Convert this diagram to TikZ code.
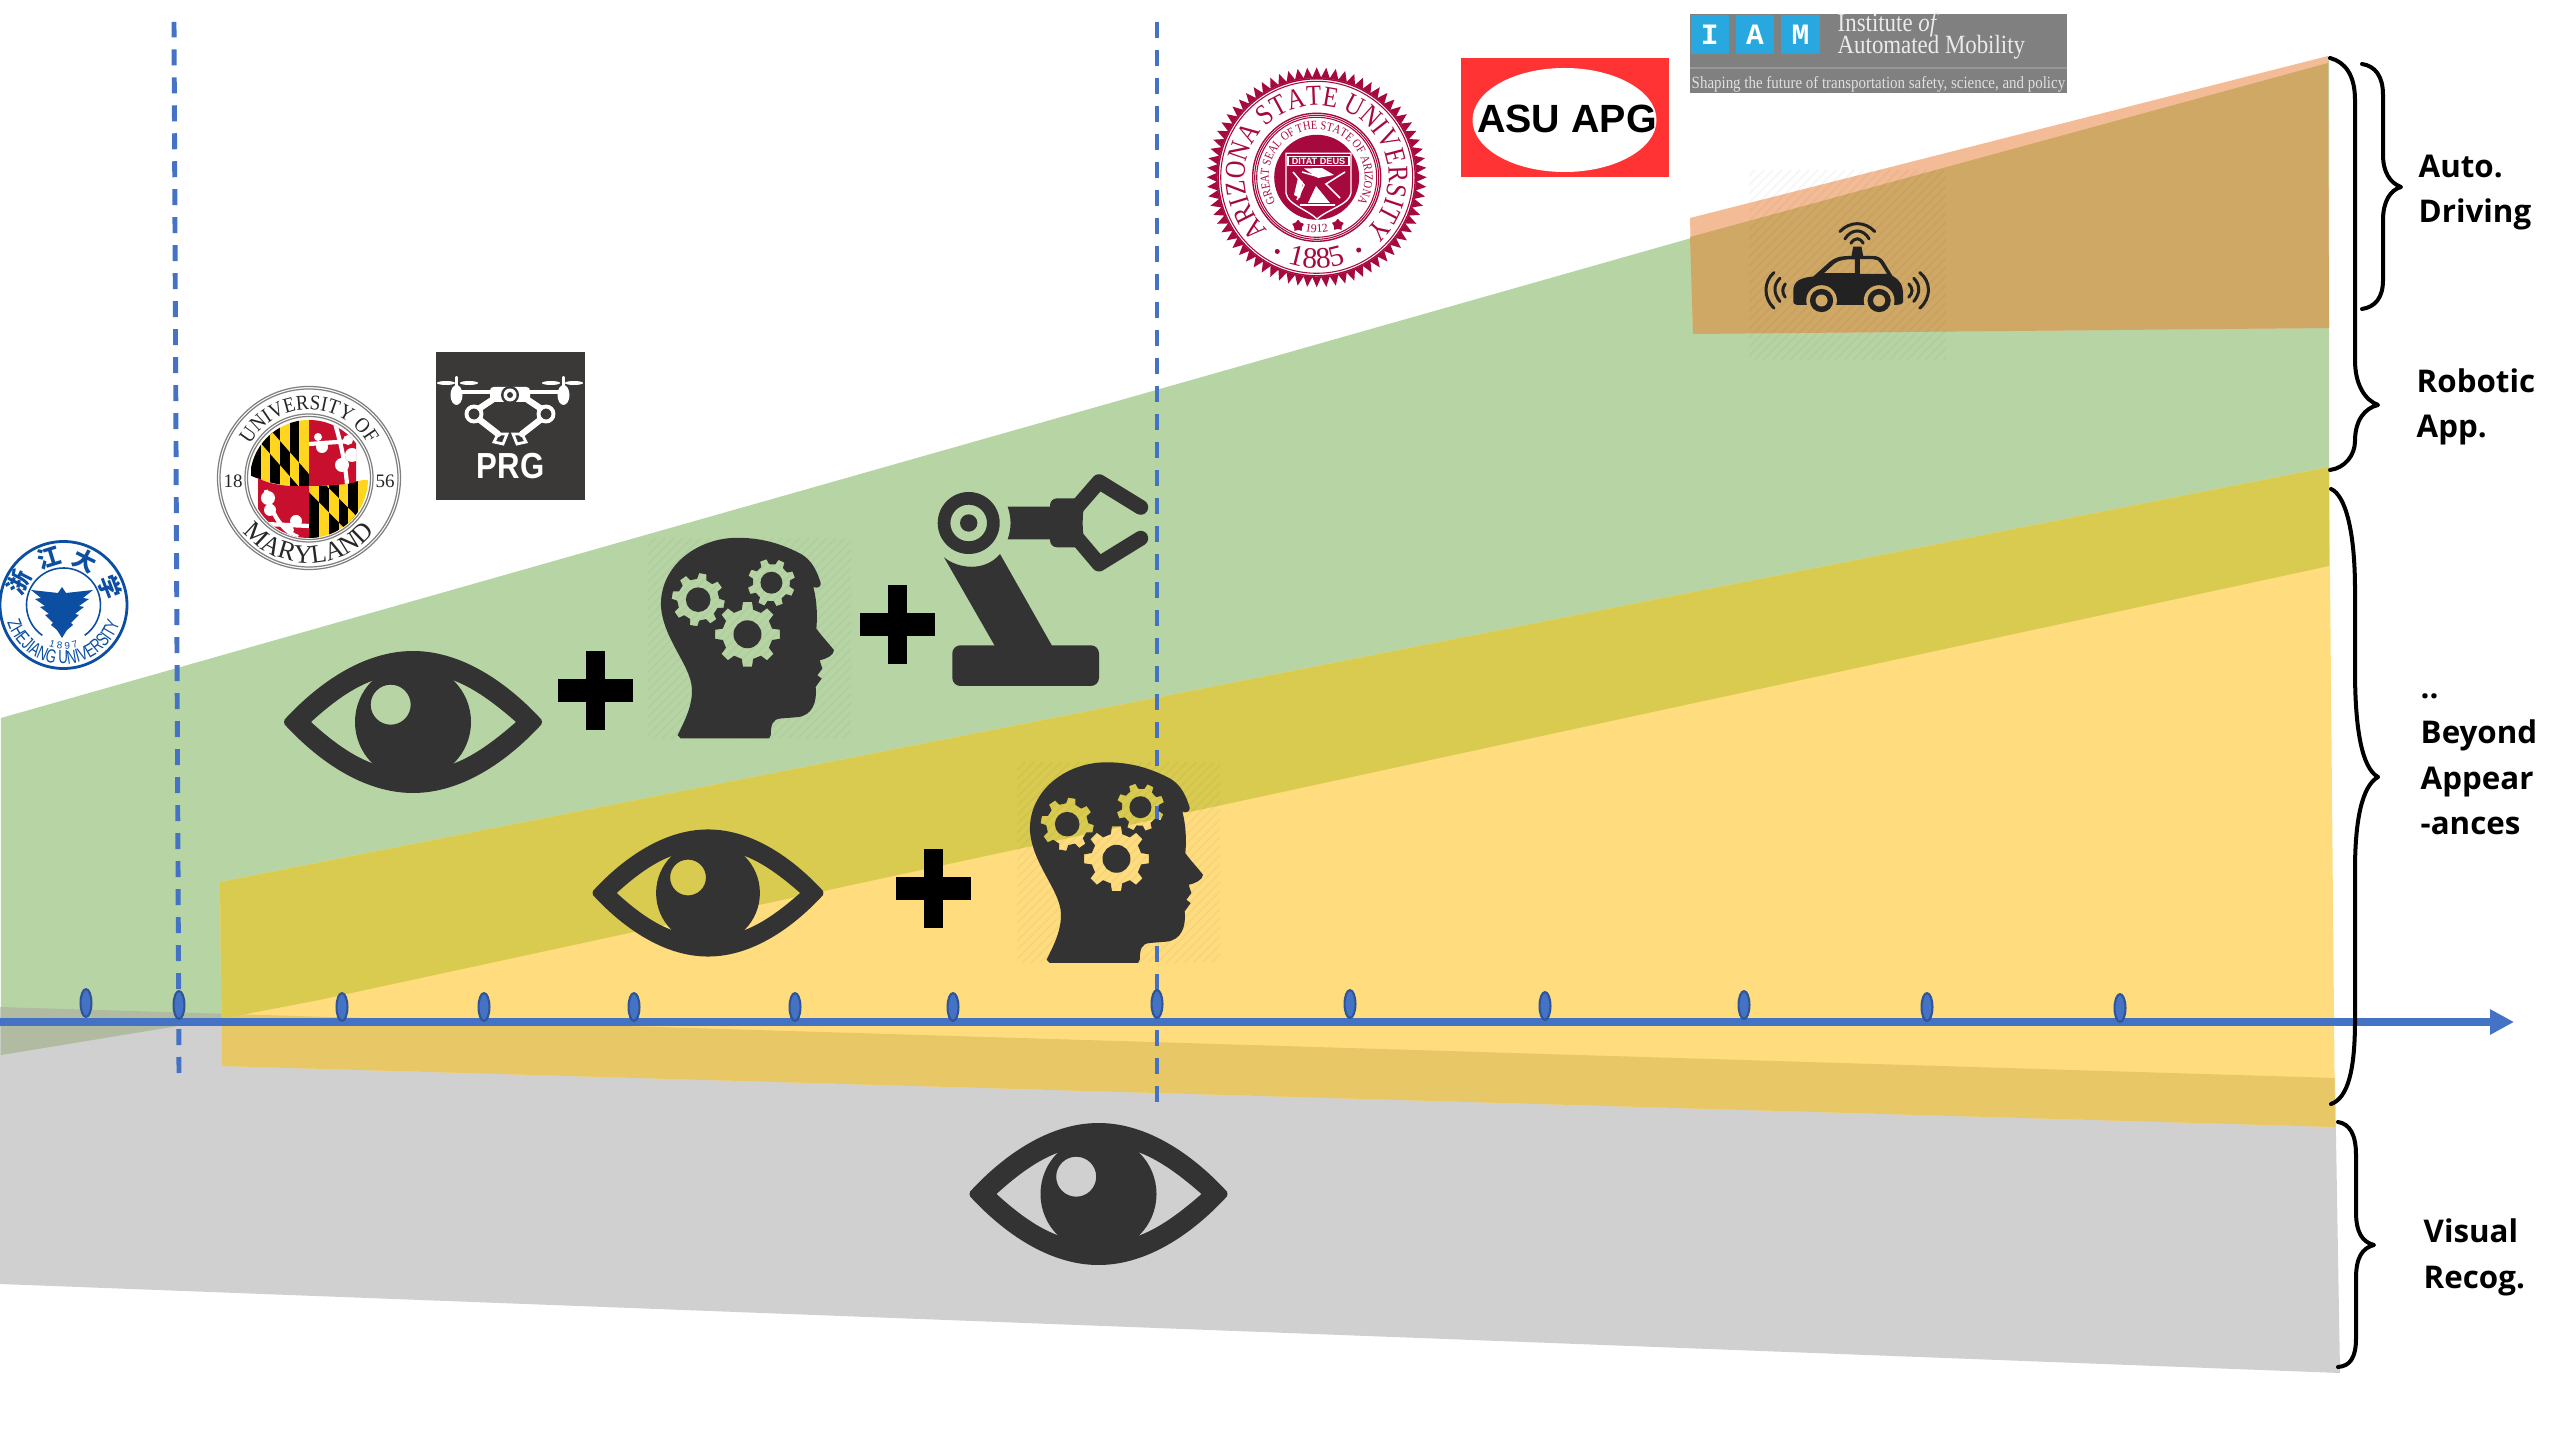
\documentclass[tikz,border=0pt]{standalone}
\usepackage{fontspec}
\usepackage{graphicx}
\usetikzlibrary{arrows.meta,decorations.text,shapes.geometric}
\newfontfamily\rsLabel{Open Sans}
\newfontfamily\rsSans{Liberation Sans}
\newfontfamily\rsSansN[FakeStretch=0.7]{Liberation Sans}
\newfontfamily\rsSerif{Liberation Serif}
\newfontfamily\rsSerifN[FakeStretch=0.85]{Liberation Serif}
\newfontfamily\rsSerifU[FakeStretch=0.9]{Liberation Serif}
\newfontfamily\rsCjk{Noto Sans CJK SC}
\newfontfamily\rsMono{Liberation Mono}
\definecolor{cgreen}{HTML}{B7D5A4}
\definecolor{cyellow}{HTML}{FFDD7F}
\definecolor{colive}{HTML}{D9CB50}
\definecolor{cband}{HTML}{E8C767}
\definecolor{cgray}{HTML}{D0D0D0}
\definecolor{cgg}{HTML}{B0BBA2}
\definecolor{corange}{HTML}{F4BC96}
\definecolor{cbrown}{HTML}{D0A866}
\definecolor{cblue}{HTML}{4472C4}
\definecolor{cdblue}{HTML}{2F5597}
\definecolor{cicon}{HTML}{333333}
\definecolor{ccar}{HTML}{222222}
\definecolor{cprg}{HTML}{3A3938}
\definecolor{cred}{HTML}{FF3333}
\definecolor{ciam}{HTML}{808080}
\definecolor{ciamb}{HTML}{29A8E0}
\definecolor{caz}{HTML}{A6093D}
\definecolor{czju}{HTML}{0B4EA2}
\definecolor{cumdy}{HTML}{FFD520}
\definecolor{cumdr}{HTML}{C8102E}
\newcommand\gearpath[5]{%
 ({#1+#4*cos(#5-13)},{#2+#4*sin(#5-13)})
 \foreach \gk in {0,...,7}{
  -- ({#1+#4*cos(#5+\gk*45-13)},{#2+#4*sin(#5+\gk*45-13)})
  -- ({#1+#3*cos(#5+\gk*45-8)},{#2+#3*sin(#5+\gk*45-8)})
  -- ({#1+#3*cos(#5+\gk*45+8)},{#2+#3*sin(#5+\gk*45+8)})
  -- ({#1+#4*cos(#5+\gk*45+13)},{#2+#4*sin(#5+\gk*45+13)})
 } -- cycle}
\newcommand\headicon[2]{%
 \begin{scope}[shift={(#1,#2)},x=0.003333cm,y=-0.003333cm]
 \fill[icon,even odd rule]
  (170,690) .. controls (195,640) and (215,600) .. (213,550)
  .. controls (210,480) and (125,400) .. (120,300)
  .. controls (118,180) and (230,97) .. (350,97)
  .. controls (440,97) and (500,125) .. (540,145)
  .. controls (575,165) and (590,200) .. (600,233)
  .. controls (602,245) and (590,250) .. (578,245)
  .. controls (590,290) and (590,340) .. (587,370)
  .. controls (605,395) and (625,415) .. (640,435)
  .. controls (640,450) and (615,462) .. (597,465)
  -- (605,490) -- (590,510) -- (603,520) -- (585,545)
  .. controls (590,590) and (575,632) .. (530,636)
  -- (480,640) .. controls (455,642) and (450,660) .. (450,690)
  -- (445,700) -- (180,700) -- cycle
  \gearpath{232}{283}{80}{63}{10}
  (232,283) circle[radius=37]
  \gearpath{452}{232}{72}{56}{25}
  (452,232) circle[radius=33]
  \gearpath{380}{387}{98}{76}{0}
  (380,387) circle[radius=42];
 \end{scope}}
\newcommand\eyeicon[3]{%
 \begin{scope}[shift={(#1,#2)},scale=#3]
 \fill[icon,even odd rule]
  (-126,-5) .. controls (-95,-38) and (-50,-71) .. (0,-71)
  .. controls (50,-71) and (95,-38) .. (126,-5)
  .. controls (130,-2) and (130,2) .. (126,5)
  .. controls (95,38) and (50,71) .. (0,71)
  .. controls (-50,71) and (-95,38) .. (-126,5)
  .. controls (-130,2) and (-130,-2) .. (-126,-5) -- cycle
  (-102,0) .. controls (-78,-22) and (-55,-38) .. (-32,-44)
  .. controls (-10,-50) and (10,-50) .. (33,-44)
  .. controls (55,-38) and (78,-22) .. (103,0)
  .. controls (78,22) and (55,38) .. (33,44)
  .. controls (10,50) and (-10,50) .. (-32,44)
  .. controls (-55,38) and (-78,22) .. (-102,0) -- cycle;
 \fill[icon,even odd rule] (0,0) circle[radius=58] (-22.3,-17.3) circle[radius=20];
 \end{scope}}
\newcommand\plusicon[2]{%
 \fill[black] ({#1-9.5},{#2-39.5}) rectangle ({#1+9.5},{#2+39.5});
 \fill[black] ({#1-37.5},{#2-11.5}) rectangle ({#1+37.5},{#2+11.5});}
\newcommand\hatchbox[4]{%
 \begin{scope}
 \clip (#1,#2) rectangle (#3,#4);
 \foreach \h in {-220,-211,...,220}
  \draw[black,opacity=.03,line width=.6pt] ({#1+\h},#4) -- ({#1+\h+#4-#2},#2);
 \end{scope}}
\newcommand\calvert[5]{%
 \fill[cumdy] (#1,#2) rectangle (#3,#4);
 \foreach \k in {0,2,4} \fill[black] ({#1+\k*(#3-#1)/6},#2) rectangle ({#1+(\k+1)*(#3-#1)/6},#4);
 \begin{scope}
 \clip (#1,{#2+#5}) -- (#1,{#2-#5}) -- (#3,{#4-#5}) -- (#3,{#4+#5}) -- cycle;
 \fill[cumdy] (#1,{#2-#5}) rectangle (#3,{#4+#5});
 \foreach \k in {1,3,5} \fill[black] ({#1+\k*(#3-#1)/6},{#2-#5}) rectangle ({#1+(\k+1)*(#3-#1)/6},{#4+#5});
 \end{scope}}
\tikzset{
 icon/.style={fill=cicon},
 sidelabel/.style={font=\rsLabel\bfseries\fontsize{8.9pt}{12.95pt}\selectfont,anchor=base west,align=left,inner sep=0pt,text=black},
 bracepath/.style={draw=black,line width=1.14pt,line cap=round,line join=round},
 timedash/.style={draw=cblue,line width=1.4pt,dash pattern=on 4.55pt off 3.41pt},
 tick/.style={ellipse,draw=cdblue,fill=cblue,line width=.6pt,minimum width=3.1pt,minimum height=7.9pt,inner sep=0pt},
 clawline/.style={draw=cicon,line width=4.27pt,line cap=round,line join=round},
 whitedrone/.style={draw=white,line width=1.1pt,line cap=round},
 carline/.style={draw=ccar,line width=.85pt,line cap=round},
}
\begin{document}
\begin{tikzpicture}[x=0.01cm,y=-0.01cm]
\useasboundingbox (0,0) rectangle (2560,1440);
\fill[white] (0,0) rectangle (2560,1440);
% --- bands
\def\pgray{(0,1007) -- (2335,1078) -- (2340,1373) -- (0,1284) -- cycle}
\def\pgreenfull{(1,718) -- (2329,57) -- (2329,566) -- (319,1000) -- (220,1019) -- (1,1055) -- cycle}
\def\pyellow{(220,882) -- (2329,467) -- (2335,1127) -- (222,1066) -- cycle}
\def\porange{(1690,218) -- (2328,56) -- (2329,328) -- (1693,334) -- cycle}
\fill[cgray] \pgray;
\fill[cgreen] \pgreenfull;
\fill[cyellow] \pyellow;
\begin{scope}\clip \pgray; \fill[cgg] \pgreenfull; \fill[cband] \pyellow; \end{scope}
\begin{scope}\clip \pyellow; \fill[colive] \pgreenfull; \end{scope}
\fill[corange] \porange;
\fill[cbrown] (1690,237) -- (2328,63) -- (2329,328) -- (1693,334) -- cycle;
% --- faint image backgrounds
\hatchbox{648}{538}{851}{739}
\hatchbox{1017}{762}{1220}{963}
\hatchbox{1749}{170}{1946}{360}
% --- timeline
\coordinate (dashAbot) at (179,1073);
\coordinate (dashAtop) at (174,22);
\coordinate (dashBbot) at (1157,1102);
\coordinate (dashBtop) at (1157,22);
\draw[timedash] (dashAbot) -- (dashAtop);
\draw[timedash] (dashBbot) -- (dashBtop);
\coordinate (tstart) at (0,1022);
\coordinate (tend) at (2514,1022);
\draw[cblue,line width=2.28pt,-{Triangle[length=6.8pt,width=6.8pt]}] (tstart) -- (tend);
\foreach \nm/\tx/\ty in {a/86/1003,b/179/1005,c/342/1007,d/484/1007,e/634/1007,f/795/1007,g/953/1007,h/1157/1004,i/1350/1004,j/1545/1006,k/1744/1005,l/1927/1007,m/2120/1008}
 \node[tick] (tick\nm) at (\tx,\ty) {};
% --- icons
\eyeicon{413}{722}{1}
\plusicon{595.5}{690.5}
\headicon{621}{505.5}
\plusicon{897.5}{625}
\eyeicon{708}{893}{0.895}
\plusicon{933.5}{888.5}
\headicon{990}{730}
\eyeicon{1098.5}{1194}{1}
% robot arm
\fill[icon,rounded corners=2.3pt] (952.3,645.3) rectangle (1099,686);
\fill[icon] (944,557.3) .. controls (958,569) and (985,572) .. (1000,554) -- (1053.3,648) -- (996,648) -- cycle;
\fill[icon,even odd rule] (968.7,523) circle[radius=31] (968.7,523) circle[radius=18.3];
\fill[icon] (968.7,523) circle[radius=8.7];
\fill[icon] (1007.7,506.7) .. controls (1011.5,518) and (1011.5,528) .. (1007.7,539.3) -- (1052,539.3) -- (1052,506.7) -- cycle;
\fill[icon,rounded corners=2pt] (1050,498.3) -- (1085,498.3) -- (1082.7,515) -- (1082.7,531) -- (1085,547.3) -- (1050,547.3) -- cycle;
\draw[clawline] (1077,507) -- (1099,481.7) -- (1140.7,507.3);
\draw[clawline] (1077,538) -- (1099,564) -- (1140.7,538.3);
% car
\begin{scope}[shift={(1750,210)},x=0.003333cm,y=-0.003333cm]
\fill[ccar,even odd rule] (130,270) -- (130,240) .. controls (132,215) and (150,203) .. (190,200) -- (240,155) .. controls (255,143) and (270,138) .. (305,138) -- (310,110) -- (335,110) -- (340,138) -- (370,138) .. controls (385,138) and (395,145) .. (402,155) -- (428,198) .. controls (450,210) and (460,225) .. (460,255) -- (460,275) .. controls (460,282) and (450,285) .. (440,285) -- (140,285) .. controls (132,285) and (130,280) .. (130,270) -- cycle
 (222,190) -- (255,160) .. controls (270,150) and (285,148) .. (315,148) -- (315,190) -- cycle
 (330,148) -- (370,148) .. controls (380,148) and (388,152) .. (392,160) -- (412,192) -- (330,192) -- cycle;
\foreach \wx in {215,388}{
 \fill[cbrown] (\wx,272) circle[radius=46];
 \fill[ccar] (\wx,272) circle[radius=35];
 \fill[cbrown] (\wx,272) circle[radius=18];}
\draw[carline] (270,65) .. controls (300,33) and (345,33) .. (375,65);
\draw[carline] (285,87) .. controls (305,55) and (340,55) .. (358,87);
\draw[carline] (303,100) .. controls (315,82) and (330,82) .. (340,100);
\draw[carline] (72,188) .. controls (40,215) and (40,265) .. (72,295);
\draw[carline] (90,205) .. controls (70,225) and (70,250) .. (90,275);
\draw[carline] (106,222) .. controls (96,235) and (96,250) .. (106,262);
\draw[carline] (510,188) .. controls (545,215) and (545,265) .. (510,295);
\draw[carline] (492,205) .. controls (512,225) and (512,250) .. (492,275);
\draw[carline] (477,222) .. controls (490,235) and (490,250) .. (477,262);
\end{scope}
% --- Zhejiang logo
\begin{scope}[shift={(63.5,605)},y=0.01cm]
 \draw[czju,line width=.8pt] (0,0) circle[radius=63.5];
 \draw[czju,line width=.45pt] (235:37) arc[start angle=235,end angle=-55,radius=37];
 \path[decorate,decoration={text along path,text align=center,text color=czju,text={|\rsSansN\fontsize{5.4pt}{6pt}\selectfont|ZHEJIANG UNIVERSITY}}] (183:59) arc[start angle=183,end angle=357,radius=59];
 \path[decorate,decoration={text along path,text align=center,text color=czju,text={|\rsSans\fontsize{2.8pt}{3pt}\selectfont|1 8 9 7}}] (245:44) arc[start angle=245,end angle=295,radius=44];
 \node[text=czju,font=\rsCjk\bfseries\fontsize{6.6pt}{7pt}\selectfont,rotate=63,inner sep=0pt] (zjuA) at (153:50) {浙};
 \node[text=czju,font=\rsCjk\bfseries\fontsize{6.6pt}{7pt}\selectfont,rotate=17,inner sep=0pt] (zjuB) at (107:49) {江};
 \node[text=czju,font=\rsCjk\bfseries\fontsize{6.6pt}{7pt}\selectfont,rotate=-26,inner sep=0pt] (zjuC) at (64:49) {大};
 \node[text=czju,font=\rsCjk\bfseries\fontsize{6.6pt}{7pt}\selectfont,rotate=-69,inner sep=0pt] (zjuD) at (21:50) {学};
\end{scope}
\fill[czju] (62,587) -- (66,593) -- (93,590) -- (83,598) -- (89,599) -- (79,606) -- (84,607) -- (75,614) -- (79,615) -- (71,623) -- (73,625) -- (67,630) -- (62,638) -- (57,630) -- (51,625) -- (53,623) -- (45,615) -- (49,614) -- (40,607) -- (45,606) -- (35,599) -- (41,598) -- (31,590) -- (58,593) -- cycle;
% --- Maryland seal
\begin{scope}[shift={(309,478)},y=0.01cm]
 \draw[gray,line width=.35pt] (0,0) circle[radius=91.5];
 \draw[gray,line width=.35pt] (0,0) circle[radius=89];
 \draw[gray,line width=.35pt] (0,0) circle[radius=64];
 \draw[gray,line width=.35pt] (0,0) circle[radius=61.5];
 \path[decorate,decoration={text along path,text align=center,text color=black!85,text={|\rsSerifU\fontsize{6.0pt}{6pt}\selectfont|UNIVERSITY OF}}] (167:68) arc[start angle=167,end angle=13,radius=68];
 \path[decorate,decoration={text along path,text align=center,text color=black!85,text={|\rsSerif\fontsize{7.4pt}{8pt}\selectfont|MARYLAND}}] (205:85) arc[start angle=205,end angle=335,radius=85];
 \node[font=\rsSerif\fontsize{5.4pt}{6pt}\selectfont,text=black!85,inner sep=0pt] (umdL) at (-76,-3) {18};
 \node[font=\rsSerif\fontsize{5.4pt}{6pt}\selectfont,text=black!85,inner sep=0pt] (umdR) at (76,-3) {56};
\end{scope}
\begin{scope}
 \clip (309,479) circle[radius=59];
 \begin{scope}
  \clip (245,473) .. controls (270,485) and (290,487) .. (309,486) -- (309,415) -- (245,415) -- cycle;
  \calvert{251}{420}{309}{486}{12}
 \end{scope}
 \begin{scope}
  \clip (309,486) .. controls (330,486) and (350,484) .. (370,478) -- (370,540) -- (309,540) -- cycle;
  \calvert{309}{480}{368}{540}{12}
 \end{scope}
 \begin{scope}
  \clip (309,486) .. controls (330,486) and (350,484) .. (356,482) -- (356,415) -- (309,415) -- cycle;
  \fill[cumdr] (309,415) rectangle (370,490);
  \draw[white,line width=1.2pt] (309,444) -- (352,441);
  \draw[white,line width=1.2pt] (334,420) .. controls (340,440) and (345,460) .. (347,484);
  \fill[white] (322,447) circle[radius=6] (342,465) circle[radius=7] (352,455) circle[radius=7] (318,437) circle[radius=4] (348,440) circle[radius=5];
 \end{scope}
 \begin{scope}
  \clip (309,486) .. controls (290,487) and (270,485) .. (258,478) -- (258,540) -- (309,540) -- cycle;
  \fill[cumdr] (245,470) rectangle (309,540);
  \draw[white,line width=1.2pt] (309,526) -- (266,524);
  \draw[white,line width=1.2pt] (266,490) .. controls (270,510) and (280,530) .. (298,537);
  \fill[white] (296,521) circle[radius=6] (268,498) circle[radius=7] (270,510) circle[radius=6] (290,530) circle[radius=4];
 \end{scope}
\end{scope}
% --- PRG
\node[fill=cprg,minimum width=1.49cm,minimum height=1.48cm,inner sep=0pt] (prgbox) at (510.5,426) {};
\node[font=\rsSans\bfseries\fontsize{10.3pt}{11pt}\selectfont,text=white,inner sep=0pt,anchor=base] (prgtext) at (510.5,479) {\scalebox{.86}[1]{PRG}};
\draw[whitedrone] (456,392) -- (565,392);
\draw[whitedrone] (456.5,378) -- (456.5,392) (563.5,378) -- (563.5,392);
\fill[white] (456.5,395) ellipse[x radius=6,y radius=10] (563.5,395) ellipse[x radius=6,y radius=10];
\fill[white] (446,383) ellipse[x radius=9,y radius=2] (469,383) ellipse[x radius=9,y radius=2] (551,383) ellipse[x radius=9,y radius=2] (574,383) ellipse[x radius=9,y radius=2];
\fill[white,rounded corners=1pt] (490,387) rectangle (530,402);
\fill[cprg] (510,395) circle[radius=9];
\fill[white] (510,395) circle[radius=6.5];
\fill[cprg] (510,395) circle[radius=3];
\draw[whitedrone,line width=1.8pt] (492,400) -- (480,408) (528,400) -- (540,408);
\draw[whitedrone,line width=1.8pt] (480,420) -- (498,434) (540,420) -- (522,434);
\draw[whitedrone] (474,414) circle[radius=7.5] (546,414) circle[radius=7.5];
\draw[whitedrone,line width=.8pt] (498,434) -- (494,442) -- (503,444) -- (507,434) -- cycle;
\draw[whitedrone,line width=.8pt] (522,434) -- (526,442) -- (517,444) -- (513,434) -- cycle;
% --- Arizona seal
\begin{scope}[shift={(1316.7,177.3)},y=0.01cm]
 \fill[caz] (0:110) \foreach \a in {0,5,...,355}{ -- (\a:110) -- ({\a+2.5}:100)} -- cycle;
 \fill[white] (0,0) circle[radius=99];
 \draw[caz,line width=.4pt] (0,0) circle[radius=98.5];
 \draw[caz,line width=.3pt] (0,0) circle[radius=96];
 \draw[caz,line width=.4pt] (0,0) circle[radius=64];
 \draw[caz,line width=.3pt] (0,0) circle[radius=62];
 \draw[caz,line width=.3pt] (0,0) circle[radius=60];
 \path[decorate,decoration={text along path,text align=center,text color=caz,text={|\rsSerifN\fontsize{8.2pt}{9pt}\selectfont|ARIZONA STATE UNIVERSITY}}] (235:72) arc[start angle=235,end angle=-55,radius=72];
 \path[decorate,decoration={text along path,text align=center,text color=caz,text={|\rsSerif\fontsize{8.4pt}{9pt}\selectfont|1885}}] (235:91) arc[start angle=235,end angle=305,radius=91];
 \path[decorate,decoration={text along path,text align=center,text color=caz,text={|\rsSerifN\fontsize{3.5pt}{4pt}\selectfont|GREAT SEAL OF THE STATE OF ARIZONA}}] (247:48) arc[start angle=247,end angle=-67,radius=48];
 \path[decorate,decoration={text along path,text align=center,text color=caz,text={|\rsSerif\fontsize{3.4pt}{4pt}\selectfont|1912}}] (245:55) arc[start angle=245,end angle=295,radius=55];
 \fill[caz] (0,0) circle[radius=42.5];
 \fill[caz] (242:84) circle[radius=2.5] (300:84) circle[radius=2.5];
 \node[star,star points=5,fill=caz,inner sep=0pt,minimum size=3.5pt] (azstarL) at (249:52) {};
 \node[star,star points=5,fill=caz,inner sep=0pt,minimum size=3.5pt] (azstarR) at (294:52) {};
\end{scope}
\draw[white,line width=.4pt] (1286,153.3) -- (1351,153.3) -- (1351,193) .. controls (1349,205) and (1330,208) .. (1317,219) .. controls (1305,208) and (1288,205) .. (1286,193) -- cycle;
\draw[white,line width=.3pt] (1288,156.7) rectangle (1349,165.5);
\node[font=\rsSans\bfseries\fontsize{2.6pt}{3pt}\selectfont,text=white,inner sep=0pt] (azmotto) at (1318.5,161) {DITAT DEUS};
\draw[white,line width=.45pt] (1293,172) -- (1304,185) -- (1297,200) (1345,172) -- (1326,184) -- (1340,198) (1302,172) -- (1316,176) (1300,205) -- (1335,205);
\fill[white] (1304,168.5) -- (1322,168) -- (1334,175) -- (1318,178) -- cycle (1316,186) -- (1330,203) -- (1308,203) -- cycle (1298,178) -- (1303,182) -- (1300,198) -- (1294,195) -- cycle;
% --- ASU APG
\node[fill=cred,minimum width=2.08cm,minimum height=1.19cm,inner sep=0pt] (apgbox) at (1565,117.5) {};
\fill[white] (1564.5,120) ellipse[x radius=92,y radius=52];
\node[font=\rsSans\bfseries\fontsize{11.2pt}{12pt}\selectfont,inner sep=0pt,anchor=base,text=black] (apgtext) at (1567,133) {ASU APG};
% --- IAM
\node[fill=ciam,minimum width=3.77cm,minimum height=0.79cm,inner sep=0pt] (iambox) at (1878.5,53.5) {};
\foreach \nm/\xa/\xb/\ch in {I/1690.6/1729/I,A/1736/1774/A,M/1781/1820/M}{
 \fill[ciamb] (\xa,15) rectangle (\xb,54);
 \node[font=\rsMono\bfseries\fontsize{8.4pt}{9pt}\selectfont,text=white,inner sep=0pt] (iam\nm) at ({(\xa+\xb)/2},35) {\ch};}
\draw[black!25!ciam!65!white,line width=.3pt] (1690,68) -- (2067,68);
\node[font=\rsSerif\fontsize{6.5pt}{7pt}\selectfont,text=white!92!black,inner sep=0pt,anchor=base west] (iamA) at (1837,32) {\scalebox{1}[1.15]{Institute \textit{of}}};
\node[font=\rsSerif\fontsize{6.5pt}{7pt}\selectfont,text=white!92!black,inner sep=0pt,anchor=base west] (iamB) at (1837,53.5) {\scalebox{1}[1.15]{Automated Mobility}};
\node[font=\rsSerif\fontsize{3.9pt}{4pt}\selectfont,text=white!88!black,inner sep=0pt,anchor=base west] (iamC) at (1691,89) {\scalebox{1.09}[1.25]{Shaping the future of transportation safety, science, and policy}};
% --- braces
\draw[bracepath] (2330,58) .. controls (2345,62) and (2355,75) .. (2355,100) -- (2355,360) .. controls (2355,385) and (2365,400) .. (2378,405) .. controls (2365,408) and (2355,420) .. (2355,441) .. controls (2355,455) and (2345,468) .. (2330,470);
\draw[bracepath] (2362,64) .. controls (2375,66) and (2383,76) .. (2383,95) -- (2383,155) .. controls (2383,172) and (2390,183) .. (2401,187) .. controls (2390,190) and (2383,202) .. (2383,220) -- (2383,280) .. controls (2383,298) and (2375,307) .. (2362,309);
\draw[bracepath] (2331,489) .. controls (2345,495) and (2355,530) .. (2355,590) -- (2355,670) .. controls (2355,730) and (2362,768) .. (2378,777) .. controls (2362,786) and (2355,820) .. (2355,870) -- (2355,1020) .. controls (2355,1070) and (2348,1098) .. (2331,1104);
\draw[bracepath] (2338,1122) .. controls (2350,1124) and (2356,1135) .. (2356,1155) -- (2356,1212) .. controls (2356,1232) and (2362,1242) .. (2374,1245) .. controls (2362,1248) and (2356,1258) .. (2356,1278) -- (2356,1338) .. controls (2356,1358) and (2350,1366) .. (2338,1367);
% --- labels
\node[sidelabel] (lblauto) at (2418,223) {Auto.\\Driving};
\node[sidelabel] (lblrobot) at (2416,438) {Robotic\\App.};
\node[sidelabel] (lblbeyond) at (2420,835) {..\\Beyond\\Appear\\-ances};
\node[sidelabel] (lblvisual) at (2423,1288) {Visual\\Recog.};
\end{tikzpicture}
\end{document}
